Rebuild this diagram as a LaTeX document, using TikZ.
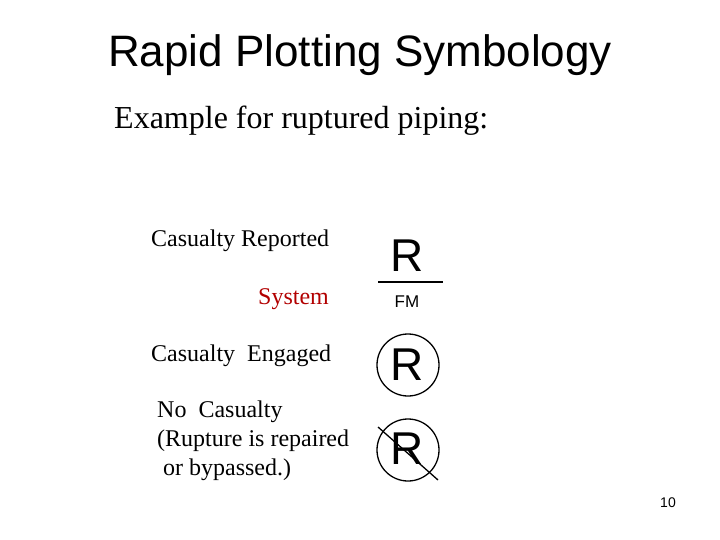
\documentclass[tikz,border=0pt]{standalone}
\usepackage{fontspec}
\setmainfont{Liberation Serif}
\newfontfamily\arial{Liberation Sans}
\begin{document}
\begin{tikzpicture}[x=1pt,y=-1pt,
  lbl/.style={anchor=west,inner sep=0pt,font=\fontsize{24}{29}\selectfont},
  sym/.style={inner sep=0pt,font=\arial\fontsize{46}{46}\selectfont},
  ring/.style={draw,line width=1.3pt,circle,minimum size=62pt}]
\useasboundingbox (0,0) rectangle (720,540);
\node[inner sep=0pt,font=\arial\fontsize{44}{48}\selectfont] (title) at (360,55) {Rapid Plotting Symbology};
\node[anchor=west,inner sep=0pt,font=\fontsize{32}{36}\selectfont] (ex) at (114,121) {Example for ruptured piping:};
\node[lbl] (t1) at (151,241) {Casualty Reported};
\node[lbl,text=red!70!black] (t2) at (258,299) {System};
\node[lbl] (t3) at (151,356) {Casualty\ \ Engaged};
\node[lbl,align=left,anchor=north west] (t4) at (157,401) {No\ \ Casualty\\(Rupture is repaired\\\ or bypassed.)};
\node[sym] (r1) at (407,256) {R};
\coordinate (la) at (378,282);
\coordinate (lb) at (443,282);
\draw[line width=2pt] (la) -- (lb);
\node[inner sep=0pt,font=\arial\fontsize{17}{17}\selectfont] (fm) at (407,302) {FM};
\node[ring] (c1) at (408,365) {};
\node[sym] (r2) at (407,365) {R};
\node[ring] (c2) at (408,450) {};
\node[sym] (r3) at (407,449) {R};
\coordinate (xa) at (378,427);
\coordinate (xb) at (438,480);
\draw[line width=1.3pt] (xa) -- (xb);
\node[inner sep=0pt,font=\arial\fontsize{14}{14}\selectfont] (pg) at (668,503) {10};
\end{tikzpicture}
\end{document}
